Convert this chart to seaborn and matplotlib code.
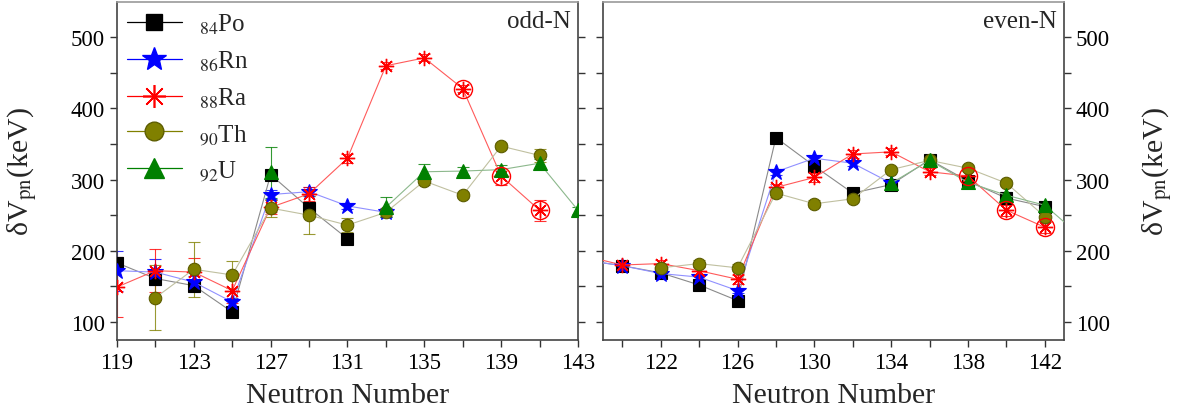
import numpy as np
import matplotlib
matplotlib.use("Agg")
import matplotlib.pyplot as plt
from matplotlib.lines import Line2D
import seaborn as sns

# odd-N panel data
po_odd_n = [119, 121, 123, 125, 127, 129, 131]
po_odd = [183, 161, 151, 114, 307, 260, 217]
po_odd_err = [8, 6, 6, 4, 5, 5, 3]

rn_odd_n = [119, 121, 123, 125, 127, 129, 131, 133]
rn_odd = [172, 170, 156, 128, 279, 283, 263, 254]
rn_odd_err = [28, 18, 8, 6, 6, 6, 4, 6]

ra_odd_n = [119, 121, 123, 125, 127, 129, 131, 133, 135, 137, 139, 141]
ra_odd = [149, 172, 170, 144, 261, 280, 330, 460, 471, 428, 305, 257]
ra_odd_err = [42, 30, 20, 18, 10, 10, 6, 5, 5, 5, 12, 15]
ra_odd_circled = [137, 139, 141]

th_odd_n = [121, 123, 125, 127, 129, 131, 133, 135, 137, 139, 141]
th_odd = [134, 174, 166, 260, 250, 236, 254, 298, 278, 347, 334]
th_odd_err = [46, 39, 19, 12, 27, 10, 5, 5, 4, 4, 9]

u_odd_n = [127, 133, 135, 137, 139, 141, 143]
u_odd = [310, 261, 311, 312, 314, 323, 257]
u_odd_err = [36, 14, 11, 6, 6, 6, 5]

# even-N panel data
po_even_n = [118, 120, 122, 124, 126, 128, 130, 132, 134, 136, 138, 140, 142]
po_even = [187, 179, 169, 152, 130, 359, 319, 281, 293, 328, 298, 274, 262]
po_even_err = [4, 4, 4, 4, 4, 4, 4, 4, 4, 4, 4, 4, 4]

rn_even_n = [118, 120, 122, 124, 126, 128, 130, 132, 134]
rn_even = [187, 179, 168, 163, 144, 311, 330, 323, 295]
rn_even_err = [4, 4, 4, 4, 4, 4, 4, 4, 4]

ra_even_n = [118, 120, 122, 124, 126, 128, 130, 132, 134, 136, 138, 140, 142]
ra_even = [193, 180, 182, 172, 160, 289, 303, 336, 339, 311, 305, 257, 233]
ra_even_err = [5, 5, 5, 5, 6, 5, 6, 5, 5, 5, 8, 8, 8]
ra_even_circled = [138, 140, 142]

th_even_n = [122, 124, 126, 128, 130, 132, 134, 136, 138, 140, 142]
th_even = [176, 182, 176, 281, 266, 273, 314, 327, 316, 295, 248]
th_even_err = [5, 5, 5, 5, 5, 5, 4, 4, 4, 4, 5]

u_even_n = [134, 136, 138, 140, 142, 144]
u_even = [295, 327, 296, 278, 264, 217]
u_even_err = [5, 5, 5, 5, 5, 5]

labels = [r"$_{84}$Po", r"$_{86}$Rn", r"$_{88}$Ra", r"$_{90}$Th", r"$_{92}$U"]

styles = {
    "Po": dict(marker="s", color="black", line="#8a8a8a", ms=8, mew=0.8),
    "Rn": dict(marker="*", color="blue", line="#9090ff", ms=12, mew=0.8),
    "Ra": dict(marker=(8, 2, 0), color="red", line="#ff5a5a", ms=11, mew=1.0),
    "Th": dict(marker="o", color="#808000", line="#c0c0a0", ms=9, mew=0.8),
    "U": dict(marker="^", color="#008000", line="#8cb88c", ms=10, mew=0.8),
}

sns.set_style("ticks")
plt.rcParams["font.family"] = ["Liberation Serif", "DejaVu Serif"]
plt.rcParams["mathtext.fontset"] = "stix"


def draw(ax, name, n, vals, errs):
    st = styles[name]
    n = np.asarray(n)
    vals = np.asarray(vals, dtype=float)
    ax.errorbar(n, vals, yerr=errs, fmt="none", ecolor=st["color"], elinewidth=0.8,
                capsize=4, capthick=0.8, alpha=0.8, zorder=2)
    # break the line where neutron numbers are missing
    breaks = np.where(np.diff(n) > 2)[0] + 1
    for seg in np.split(np.arange(len(n)), breaks):
        face = "none" if name == "Ra" else st["color"]
        edge = "#5c5c00" if name == "Th" else st["color"]
        sns.lineplot(x=n[seg], y=vals[seg], ax=ax, color=st["line"], lw=0.8,
                     marker=st["marker"], markersize=st["ms"], markerfacecolor=face,
                     markeredgecolor=edge, markeredgewidth=st["mew"],
                     estimator=None, sort=False, legend=False, zorder=3)


fig = plt.figure(figsize=(11.79, 4.14), dpi=100)
ax1 = fig.add_axes([0.0992, 0.177, 0.391, 0.8165])
ax2 = fig.add_axes([0.5115, 0.177, 0.391, 0.8165])

panels = [
    (ax1, [("Po", po_odd_n, po_odd, po_odd_err), ("Rn", rn_odd_n, rn_odd, rn_odd_err),
           ("Ra", ra_odd_n, ra_odd, ra_odd_err), ("Th", th_odd_n, th_odd, th_odd_err),
           ("U", u_odd_n, u_odd, u_odd_err)], ra_odd_circled),
    (ax2, [("Po", po_even_n, po_even, po_even_err), ("Rn", rn_even_n, rn_even, rn_even_err),
           ("Ra", ra_even_n, ra_even, ra_even_err), ("Th", th_even_n, th_even, th_even_err),
           ("U", u_even_n, u_even, u_even_err)], ra_even_circled),
]

for ax, series, circled in panels:
    for name, n, vals, errs in series:
        draw(ax, name, n, vals, errs)
        if name == "Ra":
            cv = [v for x, v in zip(n, vals) if x in circled]
            ax.plot(circled, cv, "o", mfc="none", mec="red", ms=13, mew=1.0, zorder=4)
    ax.set_xlim(119, 143)
    ax.set_ylim(75, 550)
    ax.set_yticks([100, 200, 300, 400, 500])
    ax.set_yticks(np.arange(150, 550, 100), minor=True)
    ax.tick_params(axis="both", which="both", direction="out", length=5, width=1,
                   labelsize=16.5, colors="#333333", labelcolor="black")
    ax.tick_params(axis="y", which="both", left=True, right=True)
    for s in ax.spines.values():
        s.set_color("#444444")
        s.set_linewidth(1.2)
    ax.spines["top"].set_color("#999999")
    ax.set_xlabel("Neutron Number", fontsize=21.5)
    ax.set_ylabel(r"δV$_{\rm pn}$(keV)", fontsize=21.5)
    ax.xaxis.set_label_coords(0.5, -0.125)

ax1.set_xticks(np.arange(119, 144, 4))
ax1.set_xticks(np.arange(121, 143, 4), minor=True)
ax2.set_xticks(np.arange(122, 143, 4))
ax2.set_xticks(np.arange(120, 143, 4), minor=True)

ax1.tick_params(axis="y", labelleft=True, labelright=False)
ax1.yaxis.set_label_coords(-0.17, 0.5)
ax2.tick_params(axis="y", labelleft=False, labelright=True)
ax2.yaxis.set_label_position("right")
ax2.yaxis.set_label_coords(1.165, 0.5)

ax1.text(0.985, 0.975, "odd-N", transform=ax1.transAxes, ha="right", va="top", fontsize=18)
ax2.text(0.985, 0.975, "even-N", transform=ax2.transAxes, ha="right", va="top", fontsize=18)

handles = []
for name, lab in zip(styles, labels):
    st = styles[name]
    face = "none" if name == "Ra" else st["color"]
    edge = "#5c5c00" if name == "Th" else st["color"]
    handles.append(Line2D([], [], color=st["color"], lw=0.9, marker=st["marker"],
                          ms=st["ms"] * 1.5, mfc=face, mec=edge, mew=st["mew"] * 1.2, label=lab))
ax1.legend(handles=handles, loc="upper left", bbox_to_anchor=(0.0, 1.0), frameon=False,
           fontsize=18, handlelength=2.2, handletextpad=0.7, labelspacing=0.5,
           borderpad=0.2, borderaxespad=0.2)

fig.savefig("out.png", dpi=100)
